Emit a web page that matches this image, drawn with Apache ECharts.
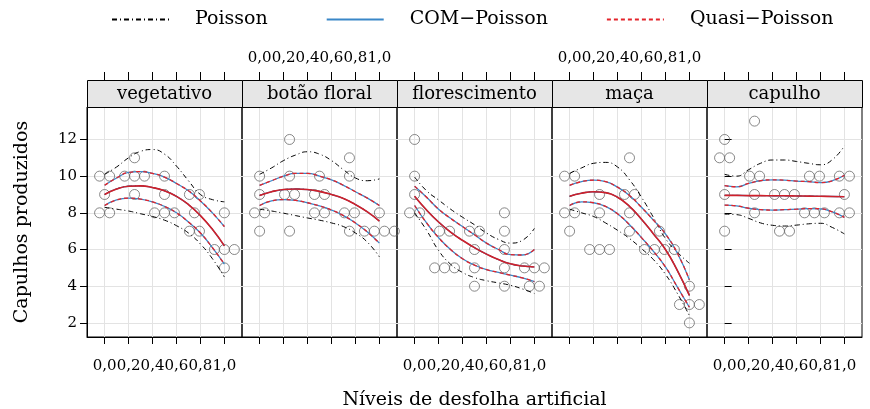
<!DOCTYPE html>
<html><head><meta charset="utf-8">
<script src="https://cdn.jsdelivr.net/npm/echarts@6/dist/echarts.min.js"></script>
<style>html,body{margin:0;padding:0;background:#fff}#c{width:870px;height:409px}</style>
</head><body><div id="c"></div>
<script>
// ---------- data ----------
const panels = ['vegetativo', 'botão floral', 'florescimento', 'maça', 'capulho'];
const xTicks = [0, 0.2, 0.4, 0.6, 0.8, 1.0];
const yTicks = [2, 4, 6, 8, 10, 12];
const curveX = [0, 0.1, 0.2, 0.3, 0.4, 0.5, 0.6, 0.7, 0.8, 0.9, 1.0];

// observed points (x includes the side-by-side offsets seen in the picture)
const ptsVegetativo = [[-0.042,10],[0.042,10],[0,9],[-0.042,8],[0.042,8],
  [0.25,11],[0.167,10],[0.25,10],[0.333,10],[0.25,9],
  [0.5,10],[0.5,9],[0.417,8],[0.5,8],[0.583,8],
  [0.708,9],[0.792,9],[0.75,8],[0.708,7],[0.792,7],
  [1,8],[0.917,6],[1,6],[1.083,6],[1,5]];
const ptsBotao = [[0,10],[0,9],[-0.042,8],[0.042,8],[0,7],
  [0.25,12],[0.25,10],[0.208,9],[0.292,9],[0.25,7],
  [0.5,10],[0.458,9],[0.542,9],[0.458,8],[0.542,8],
  [0.75,11],[0.75,10],[0.708,8],[0.792,8],[0.75,7],
  [1,8],[0.875,7],[0.958,7],[1.042,7],[1.125,7]];
const ptsFlorescimento = [[0,12],[0,10],[0,9],[-0.042,8],[0.042,8],
  [0.208,7],[0.292,7],[0.167,5],[0.25,5],[0.333,5],
  [0.458,7],[0.542,7],[0.5,6],[0.5,5],[0.5,4],
  [0.75,8],[0.75,7],[0.75,6],[0.75,5],[0.75,4],
  [0.917,5],[1,5],[1.083,5],[0.958,4],[1.042,4]];
const ptsMaca = [[-0.042,10],[0.042,10],[-0.042,8],[0.042,8],[0,7],
  [0.25,9],[0.25,8],[0.167,6],[0.25,6],[0.333,6],
  [0.5,11],[0.458,9],[0.542,9],[0.5,8],[0.5,7],
  [0.75,7],[0.625,6],[0.708,6],[0.792,6],[0.875,6],
  [1,4],[0.917,3],[1,3],[1.083,3],[1,2]];
const ptsCapulho = [[0,12],[-0.042,11],[0.042,11],[0,9],[0,7],
  [0.25,13],[0.208,10],[0.292,10],[0.25,9],[0.25,8],
  [0.417,9],[0.5,9],[0.583,9],[0.458,7],[0.542,7],
  [0.708,10],[0.792,10],[0.667,8],[0.75,8],[0.833,8],
  [0.958,10],[1.042,10],[1,9],[0.958,8],[1.042,8]];
const points = [ptsVegetativo, ptsBotao, ptsFlorescimento, ptsMaca, ptsCapulho];

// fitted curves, one row per panel, values at curveX
const fitCenter = [
  [9.0, 9.3, 9.45, 9.47, 9.38, 9.2, 8.9, 8.45, 7.85, 7.1, 6.2],
  [8.95, 9.15, 9.27, 9.3, 9.27, 9.17, 9.0, 8.78, 8.45, 8.05, 7.55],
  [8.9, 8.15, 7.5, 6.95, 6.5, 6.1, 5.75, 5.45, 5.22, 5.1, 5.05],
  [8.9, 9.07, 9.15, 9.1, 8.85, 8.35, 7.65, 6.85, 6.0, 4.85, 3.5],
  [8.95, 8.95, 8.94, 8.94, 8.93, 8.93, 8.92, 8.91, 8.9, 8.89, 8.88]
];
const comUpper = [
  [9.5, 9.9, 10.2, 10.25, 10.15, 9.95, 9.6, 9.2, 8.65, 8.0, 7.25],
  [9.5, 9.75, 10.0, 10.15, 10.15, 10.0, 9.8, 9.5, 9.15, 8.8, 8.4],
  [9.45, 8.85, 8.2, 7.7, 7.25, 6.8, 6.35, 6.0, 5.72, 5.7, 6.0],
  [9.5, 9.7, 9.78, 9.7, 9.4, 8.95, 8.3, 7.6, 6.85, 5.8, 4.35],
  [9.48, 9.42, 9.6, 9.75, 9.8, 9.78, 9.73, 9.7, 9.65, 9.75, 10.05]
];
const comLower = [
  [8.4, 8.7, 8.8, 8.75, 8.6, 8.35, 8.0, 7.5, 6.9, 6.1, 5.2],
  [8.4, 8.65, 8.72, 8.68, 8.55, 8.38, 8.15, 7.85, 7.45, 6.95, 6.35],
  [8.4, 7.45, 6.65, 6.0, 5.5, 5.15, 4.9, 4.75, 4.6, 4.45, 4.25],
  [8.4, 8.6, 8.55, 8.35, 7.95, 7.35, 6.65, 5.9, 5.05, 3.95, 2.85],
  [8.42, 8.38, 8.25, 8.17, 8.15, 8.17, 8.2, 8.23, 8.22, 8.05, 7.75]
];
const quasiUpper = comUpper;   // coincide with COM-Poisson bands in the picture
const quasiLower = comLower;
const poisUpper = [
  [10.1, 10.5, 11.0, 11.35, 11.45, 11.2, 10.55, 9.75, 9.0, 8.72, 8.6],
  [10.1, 10.45, 10.85, 11.15, 11.33, 11.2, 10.85, 10.35, 9.9, 9.75, 9.85],
  [9.95, 9.2, 8.7, 8.2, 7.76, 7.35, 6.9, 6.55, 6.35, 6.5, 7.15],
  [10.15, 10.45, 10.7, 10.75, 10.5, 9.8, 8.85, 7.75, 6.6, 5.85, 5.25],
  [10.1, 10.0, 10.35, 10.7, 10.88, 10.88, 10.8, 10.7, 10.62, 10.9, 11.65]
];
const poisLower = [
  [8.3, 8.2, 8.1, 7.95, 7.8, 7.6, 7.3, 6.9, 6.3, 5.5, 4.5],
  [8.2, 8.1, 7.98, 7.85, 7.72, 7.6, 7.45, 7.25, 6.9, 6.4, 5.6],
  [8.0, 7.05, 5.95, 5.2, 4.75, 4.47, 4.3, 4.18, 4.05, 3.85, 3.6],
  [8.2, 8.0, 7.8, 7.45, 7.05, 6.6, 6.05, 5.45, 4.65, 3.6, 2.4],
  [7.93, 7.9, 7.7, 7.45, 7.32, 7.28, 7.33, 7.4, 7.43, 7.2, 6.85]
];

// ---------- layout ----------
const FONT = 'DejaVu Serif';
const L0 = 87, PW = 155, TOP = 107, PH = 230, STRIP = 27;
const XMIN = -0.147, XMAX = 1.147, YMIN = 1.23, YMAX = 13.77;
const POIS = '#000000', COM = '#3A87C8', QUASI = '#E3242B';
const fmtX = v => Number(v).toFixed(1).replace('.', ',');

const grid = [], xAxis = [], yAxis = [], series = [], graphic = [];
panels.forEach((name, i) => {
  const left = L0 + PW * i;
  grid.push({left: left, top: TOP, width: PW, height: PH, show: true, borderColor: '#000', borderWidth: 1, containLabel: false});
  xAxis.push({type: 'value', gridIndex: i, min: XMIN, max: XMAX, position: 'bottom',
    axisLine: {show: true, onZero: false, lineStyle: {color: '#000', width: 1}},
    axisTick: {show: true, inside: false, length: 7, customValues: xTicks, lineStyle: {color: '#000'}},
    axisLabel: {show: i % 2 === 0, customValues: xTicks, formatter: fmtX, margin: 22, color: '#000', fontFamily: FONT, fontSize: 15},
    splitLine: {show: true, lineStyle: {color: '#e3e3e3', width: 1}}});
  xAxis.push({type: 'value', gridIndex: i, min: XMIN, max: XMAX, position: 'top', offset: STRIP,
    axisLine: {show: false},
    axisTick: {show: true, inside: false, length: 8, customValues: xTicks, lineStyle: {color: '#000'}},
    axisLabel: {show: i % 2 === 1, customValues: xTicks, formatter: fmtX, margin: 14, color: '#000', fontFamily: FONT, fontSize: 15},
    splitLine: {show: false}});
  yAxis.push({type: 'value', gridIndex: i, min: YMIN, max: YMAX, position: 'left',
    axisLine: {show: i === 0, onZero: false, lineStyle: {color: '#000'}},
    axisTick: {show: i === 0, inside: false, length: 7, customValues: yTicks, lineStyle: {color: '#000'}},
    axisLabel: {show: i === 0, customValues: yTicks, margin: 10, color: '#000', fontFamily: FONT, fontSize: 15},
    splitLine: {show: true, lineStyle: {color: '#e3e3e3', width: 1}}});

  graphic.push({type: 'rect', silent: true, z: 10,
    shape: {x: left + 0.5, y: TOP - STRIP + 0.5, width: PW, height: STRIP},
    style: {fill: '#e6e6e6', stroke: '#000', lineWidth: 1}});
  graphic.push({type: 'text', silent: true, z: 11, x: left + PW / 2, y: TOP - STRIP / 2 + 1,
    style: {text: name, font: '18px "' + FONT + '"', fill: '#000', align: 'center', verticalAlign: 'middle', textAlign: 'center', textVerticalAlign: 'middle'}});
});
yAxis.push({type: 'value', gridIndex: 4, min: YMIN, max: YMAX, position: 'right',
  axisLine: {show: false},
  axisTick: {show: true, inside: false, length: 7, customValues: yTicks, lineStyle: {color: '#000'}},
  axisLabel: {show: false, customValues: yTicks},
  splitLine: {show: false}});

const toPairs = row => curveX.map((x, k) => [x, row[k]]);
function lineSeries(nm, i, row, color, width, type, z) {
  return {type: 'line', name: nm, xAxisIndex: 2 * i, yAxisIndex: i, data: toPairs(row),
    symbol: 'none', showSymbol: false, smooth: true, silent: true, z: z,
    lineStyle: {color: color, width: width, type: type}, itemStyle: {color: color}};
}
panels.forEach((name, i) => {
  series.push({type: 'scatter', name: 'obs', xAxisIndex: 2 * i, yAxisIndex: i, data: points[i],
    symbol: 'circle', symbolSize: 10, silent: true, z: 2,
    itemStyle: {color: 'rgba(0,0,0,0)', borderColor: '#6a6a6a', borderWidth: 1}});
});
panels.forEach((name, i) => {
  series.push(lineSeries('Poisson', i, poisLower[i], POIS, 1, [5, 3, 1, 3], 3));
  series.push(lineSeries('Poisson', i, poisUpper[i], POIS, 1, [5, 3, 1, 3], 3));
  series.push(lineSeries('Poisson', i, fitCenter[i], POIS, 1, [5, 3, 1, 3], 3));
});
panels.forEach((name, i) => {
  series.push(lineSeries('COM−Poisson', i, comLower[i], COM, 1.3, 'solid', 4));
  series.push(lineSeries('COM−Poisson', i, comUpper[i], COM, 1.3, 'solid', 4));
  series.push(lineSeries('COM−Poisson', i, fitCenter[i], COM, 1.3, 'solid', 4));
});
panels.forEach((name, i) => {
  series.push(lineSeries('Quasi−Poisson', i, quasiLower[i], QUASI, 1.3, [4, 3], 5));
  series.push(lineSeries('Quasi−Poisson', i, quasiUpper[i], QUASI, 1.3, [4, 3], 5));
  series.push(lineSeries('Quasi−Poisson', i, fitCenter[i], '#D0202A', 1.6, 'solid', 5));
});

graphic.push({type: 'text', silent: true, x: 22, y: TOP + PH / 2, rotation: Math.PI / 2,
  style: {text: 'Capulhos produzidos', font: '19px "' + FONT + '"', fill: '#000', align: 'center', verticalAlign: 'middle', textAlign: 'center', textVerticalAlign: 'middle'}});
graphic.push({type: 'text', silent: true, x: L0 + PW * 2.5, y: 400,
  style: {text: 'Níveis de desfolha artificial', font: '19px "' + FONT + '"', fill: '#000', align: 'center', verticalAlign: 'middle', textAlign: 'center', textVerticalAlign: 'middle'}});

const chart = echarts.init(document.getElementById('c'), null, {renderer: 'canvas'});
chart.setOption({
  animation: false,
  backgroundColor: '#fff',
  legend: {data: ['Poisson', 'COM−Poisson', 'Quasi−Poisson'], left: 106, top: 5,
    itemWidth: 57, itemHeight: 12, itemGap: 58, selectedMode: false,
    itemStyle: {opacity: 0},
    textStyle: {color: '#000', fontFamily: FONT, fontSize: 19, padding: [0, 0, 0, 21]}},
  grid: grid, xAxis: xAxis, yAxis: yAxis, series: series, graphic: graphic
});
</script></body></html>
